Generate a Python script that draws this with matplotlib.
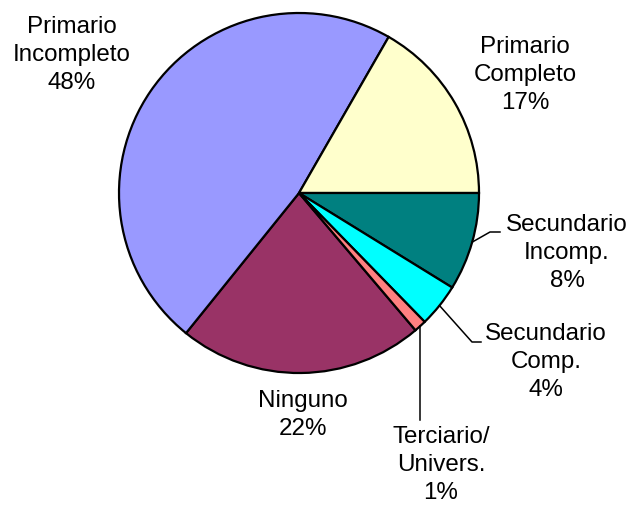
import numpy as np
import matplotlib.pyplot as plt

plt.rcParams['font.family'] = ['Liberation Sans', 'DejaVu Sans']

# datos (orden de la serie, sentido horario)
categorias = ['Ninguno', 'Primario\nIncompleto', 'Primario\nCompleto',
              'Secundario\nIncomp.', 'Secundario\nComp.', 'Terciario/\nUnivers.']
valores = [22.0, 47.5, 16.7, 8.8, 3.9, 1.1]
etiquetas_pct = ['22%', '48%', '17%', '8%', '4%', '1%']
colores = ['#993366', '#9999FF', '#FFFFCC', '#008080', '#00FFFF', '#FF8080']

# posiciones de las etiquetas (px, origen arriba-izquierda)
pos_etiquetas = [(303, 415), (72, 55), (525, 75), (567, 253), (546, 362), (441, 465)]

W, H = 639, 506
fig = plt.figure(figsize=(W / 100, H / 100), dpi=100)
ax = fig.add_axes([0, 0, 1, 1])

cx, cy, r = 299, H - 194, 180
start = -360 * sum(valores[3:]) / sum(valores)
wedges, _ = ax.pie(valores, colors=colores, startangle=start, counterclock=False,
                   center=(cx, cy), radius=r, frame=True,
                   wedgeprops=dict(edgecolor='black', linewidth=1.6))
ax.set_xlim(0, W)
ax.set_ylim(0, H)
ax.set_aspect('equal')
ax.axis('off')

for i, cat in enumerate(categorias):
    x, y = pos_etiquetas[i]
    ax.text(x, H - y, f'{cat}\n{etiquetas_pct[i]}', ha='center', va='center',
            fontsize=17.4, linespacing=1.33)

# lineas guia para los sectores pequenos
def borde(w):
    ang = np.deg2rad((w.theta1 + w.theta2) / 2)
    return cx + r * np.cos(ang), cy + r * np.sin(ang)

x0, y0 = borde(wedges[3])
ax.plot([x0, 490, 500], [y0, H - 233, H - 233], color='black', lw=1.1)
x0, y0 = borde(wedges[4])
ax.plot([x0, 472, 481], [y0, H - 343, H - 343], color='black', lw=1.1)
x0, y0 = borde(wedges[5])
ax.plot([x0, x0], [y0, H - 421], color='black', lw=1.1)

fig.savefig('out.png', dpi=100)
